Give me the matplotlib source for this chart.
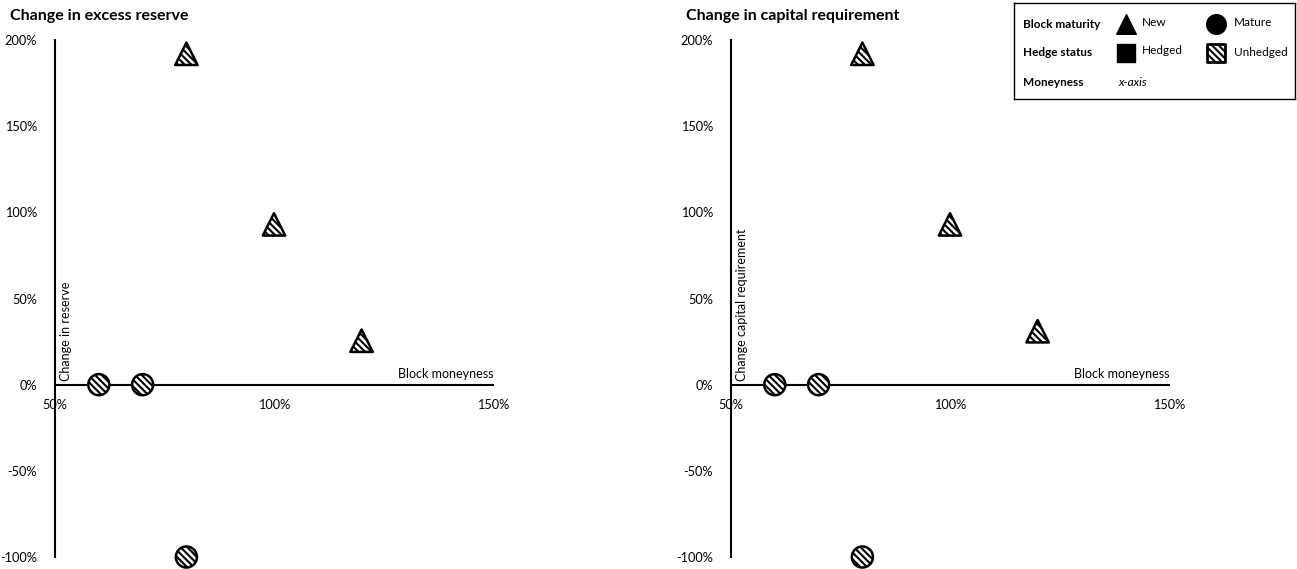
import numpy as np
import matplotlib
matplotlib.use("Agg")
import matplotlib.pyplot as plt

plt.rcParams['font.family'] = ['Lato', 'DejaVu Sans']
plt.rcParams['hatch.linewidth'] = 1.5

# data (moneyness, change)
new_x = [0.8, 1.0, 1.2]
reserve_new = [1.92, 0.93, 0.255]
capital_new = [1.92, 0.93, 0.31]
mature_x = [0.6, 0.7, 0.8]
reserve_mature = [0.0, 0.0, -1.0]
capital_mature = [0.0, 0.0, -1.0]

x_ticks = [0.5, 1.0, 1.5]
y_ticks = [-1.0, -0.5, 0.0, 0.5, 1.0, 1.5, 2.0]

panels = [
    ("Change in excess reserve", "Change in reserve", reserve_new, reserve_mature),
    ("Change in capital requirement", "Change capital requirement", capital_new, capital_mature),
]

fig = plt.figure(figsize=(12.97, 5.69), dpi=100)
W, H = 1297, 569

ax_lefts = [55, 731]
for (title, ylab, yn, ym), left in zip(panels, ax_lefts):
    ax = fig.add_axes([left / W, 1 - 557 / H, 438 / W, 517 / H])
    ax.set_xlim(0.5, 1.5)
    ax.set_ylim(-1.0, 2.0)
    for s in ['top', 'right']:
        ax.spines[s].set_visible(False)
    ax.spines['bottom'].set_position(('data', 0))
    ax.spines['bottom'].set_linewidth(1.5)
    ax.spines['left'].set_linewidth(1.5)
    ax.set_xticks(x_ticks)
    ax.set_xticklabels([f"{int(round(v * 100))}%" for v in x_ticks])
    ax.set_yticks(y_ticks)
    ax.set_yticklabels([f"{int(round(v * 100))}%" for v in y_ticks])
    ax.tick_params(length=0, labelsize=9.2)
    ax.tick_params(axis='x', pad=10)
    ax.tick_params(axis='y', pad=13)
    ax.scatter(new_x, yn, marker='^', s=260, facecolor='white', edgecolor='black',
               hatch='\\\\\\\\\\', linewidths=1.8, zorder=3, clip_on=False)
    ax.scatter(mature_x, ym, marker='o', s=230, facecolor='white', edgecolor='black',
               hatch='\\\\\\\\\\', linewidths=1.8, zorder=3, clip_on=False)
    ax.text(0.512, 0.02, ylab, rotation=90, ha='left', va='bottom', fontsize=9)
    ax.text(1.5, 0.025, "Block moneyness", ha='right', va='bottom', fontsize=9)
    fig.text((left - 45) / W, 1 - 16 / H, title, fontsize=11.5, fontweight='bold',
             ha='left', va='center')

# legend box
lg = fig.add_axes([1014 / W, 1 - 99 / H, 281 / W, 96 / H])
lg.set_xlim(1014, 1295)
lg.set_ylim(99, 3)
lg.set_xticks([])
lg.set_yticks([])
for s in lg.spines.values():
    s.set_linewidth(1.0)
rows = [24, 53, 82]
labels = ["Block maturity", "Hedge status", "Moneyness"]
for yy, lab in zip(rows, labels):
    lg.text(1023, yy, lab, fontsize=8.5, fontweight='bold', va='center', ha='left')
lg.scatter([1126], [rows[0]], marker='^', s=200, color='black')
lg.text(1142, rows[0] - 2, "New", fontsize=8.5, va='center')
lg.scatter([1216], [rows[0]], marker='o', s=200, color='black')
lg.text(1234, rows[0] - 2, "Mature", fontsize=8.5, va='center')
lg.scatter([1126], [rows[1]], marker='s', s=180, color='black')
lg.text(1142, rows[1] - 2, "Hedged", fontsize=8.5, va='center')
lg.scatter([1216], [rows[1]], marker='s', s=180, facecolor='white', edgecolor='black',
           hatch='\\\\\\\\\\', linewidths=2)
lg.text(1234, rows[1], "Unhedged", fontsize=8.5, va='center')
lg.text(1118, rows[2], "x-axis", fontsize=8.5, style='italic', va='center')

fig.savefig("out.png", dpi=100)
